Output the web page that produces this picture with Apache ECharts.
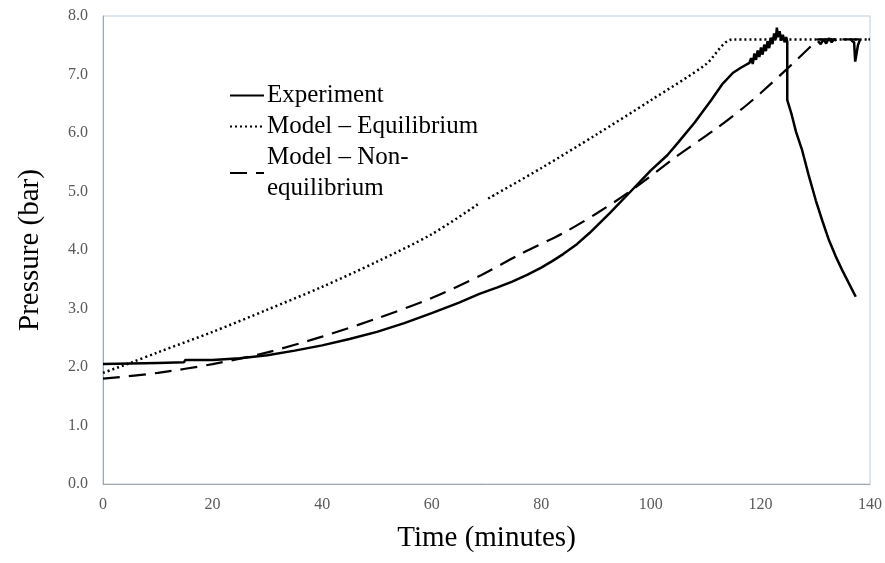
<!DOCTYPE html>
<html>
<head>
<meta charset="utf-8">
<script src="https://cdn.jsdelivr.net/npm/echarts@6/dist/echarts.min.js"></script>
<style>
  html, body { margin: 0; padding: 0; background: #fff; }
  #chart { width: 885px; height: 563px; }
</style>
</head>
<body>
<div id="chart"></div>
<script>
// series names
var seriesNames = ['Experiment', 'Model – Equilibrium', 'Model – Non-equilibrium'];

// experiment: [time (min), pressure (bar)], '-' breaks the line
var experiment = [
  [0, 2.05], [5, 2.06], [10, 2.07], [14.8, 2.08], [15, 2.12], [20, 2.12],
  [25, 2.15], [30, 2.2], [35, 2.28], [40, 2.37], [45, 2.48], [50, 2.6],
  [55, 2.75], [60, 2.92], [65, 3.1], [68.7, 3.25], [72, 3.36], [74.7, 3.46],
  [77.5, 3.58], [80, 3.7], [82, 3.81], [84, 3.93], [86.5, 4.1], [88.8, 4.29],
  [92.5, 4.63], [96, 4.97], [100, 5.36], [103, 5.62], [105, 5.84], [108, 6.18], [111, 6.56],
  [113, 6.83], [115, 7.03], [116.5, 7.12], [118, 7.2],
  // noisy section near the peak
  [118.3, 7.28], [118.6, 7.18], [118.9, 7.36], [119.2, 7.25], [119.5, 7.41],
  [119.8, 7.3], [120.1, 7.46], [120.4, 7.34], [120.7, 7.51], [121, 7.4],
  [121.3, 7.57], [121.6, 7.45], [121.9, 7.63], [122.2, 7.52], [122.5, 7.7],
  [122.8, 7.6], [123, 7.8], [123.2, 7.64], [123.5, 7.74], [123.8, 7.58],
  [124.1, 7.68], [124.4, 7.55], [124.7, 7.64], [124.9, 7.56],
  // drop
  [124.9, 6.56], [125.6, 6.35], [126.5, 6.02], [127.6, 5.71], [128.8, 5.28],
  [130.1, 4.85], [131.3, 4.5], [132.5, 4.17], [133.7, 3.9], [134.9, 3.66],
  [136.2, 3.42], [137.4, 3.2],
  '-',
  [130.5, 7.57], [131, 7.52], [131.5, 7.6], [132, 7.53], [132.5, 7.62],
  [133, 7.55], [133.5, 7.61], [133.8, 7.57],
  '-',
  [136.6, 7.58], [137.1, 7.55], [137.3, 7.22], [137.6, 7.2], [137.8, 7.5], [138.2, 7.6]
];

var equilibrium = [
  [0, 1.9], [5, 2.07], [10, 2.25], [20, 2.6], [30, 2.98], [40, 3.37],
  [50, 3.8], [60, 4.27], [68.4, 4.78], '-', [70.3, 4.88], [80, 5.4],
  [90, 5.97], [100, 6.56], [110, 7.17], [115, 7.6], [140, 7.6]
];

var nonEquilibrium = [
  [0, 1.8], [10, 1.9], [20, 2.05], [30, 2.25], [40, 2.52], [50, 2.83],
  [60, 3.18], [69, 3.57], [76, 3.92], [84, 4.29], [90, 4.62], [96, 4.99],
  [105, 5.62], [112, 6.08], [117, 6.44], [120, 6.68], [125.6, 7.16],
  [129.4, 7.5], [130.5, 7.6], [140, 7.6]
];

var chart = echarts.init(document.getElementById('chart'));

var serif = '"Liberation Serif", "DejaVu Serif", serif';

var option = {
  backgroundColor: '#ffffff',
  animation: false,
  grid: {
    left: 103, top: 16, right: 15, bottom: 79,
    show: true, borderColor: '#bccbdc', borderWidth: 1
  },
  legend: {
    orient: 'vertical',
    left: 224,
    top: 75,
    itemWidth: 34,
    itemHeight: 10,
    itemGap: 0,
    itemStyle: { opacity: 0 },
    textStyle: {
      fontFamily: serif, fontSize: 25, color: '#000', lineHeight: 31, padding: [0, 0, 0, -2]
    },
    formatter: function (name) {
      if (name === seriesNames[2]) return 'Model – Non-\nequilibrium';
      return name;
    },
    data: seriesNames
  },
  xAxis: {
    type: 'value',
    min: 0, max: 140, interval: 20,
    name: 'Time (minutes)',
    nameLocation: 'middle',
    nameGap: 40,
    nameTextStyle: { fontFamily: serif, fontSize: 29, color: '#000' },
    axisLine: { lineStyle: { color: '#a6a6a6', width: 1 } },
    axisTick: { show: false },
    splitLine: { show: false },
    axisLabel: { fontFamily: serif, fontSize: 16, color: '#595959', margin: 13 }
  },
  yAxis: {
    type: 'value',
    min: 0, max: 8, interval: 1,
    name: 'Pressure (bar)',
    nameLocation: 'middle',
    nameGap: 58,
    nameTextStyle: { fontFamily: serif, fontSize: 29, color: '#000' },
    axisLine: { show: true, lineStyle: { color: '#a6a6a6', width: 1 } },
    axisTick: { show: false },
    splitLine: { show: false },
    axisLabel: {
      fontFamily: serif, fontSize: 16, color: '#595959', margin: 15,
      formatter: function (v) { return v.toFixed(1); }
    }
  },
  series: [
    {
      name: seriesNames[0],
      type: 'line',
      data: experiment,
      showSymbol: false,
      symbol: 'none',
      connectNulls: false,
      lineStyle: { color: '#000', width: 2.5 },
      itemStyle: { color: '#000' },
      z: 3
    },
    {
      name: seriesNames[1],
      type: 'line',
      data: equilibrium,
      showSymbol: false,
      symbol: 'none',
      smooth: 0.3,
      connectNulls: false,
      lineStyle: { color: '#000', width: 2.5, type: [2, 3] },
      itemStyle: { color: '#000' },
      z: 2
    },
    {
      name: seriesNames[2],
      type: 'line',
      data: nonEquilibrium,
      showSymbol: false,
      symbol: 'none',
      smooth: 0.3,
      lineStyle: { color: '#000', width: 2.2, type: [17, 9] },
      itemStyle: { color: '#000' },
      z: 2
    }
  ]
};

chart.setOption(option);
</script>
</body>
</html>
